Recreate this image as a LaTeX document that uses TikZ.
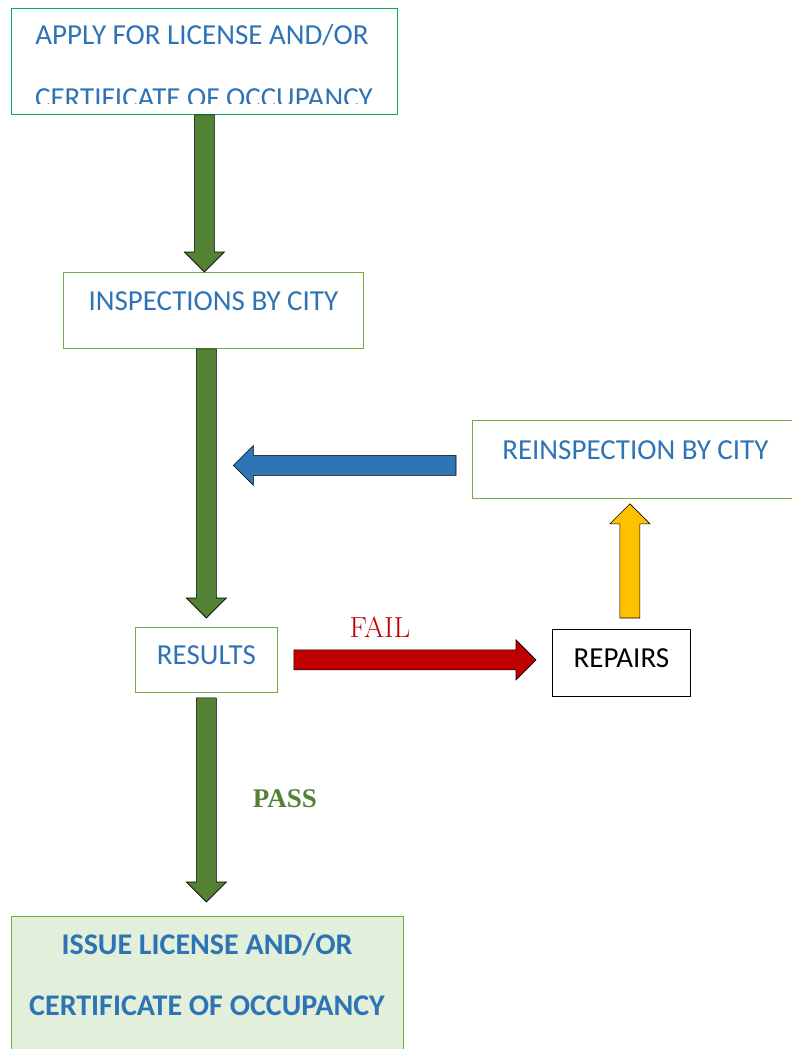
\documentclass[tikz,border=0pt]{standalone}
\usepackage{fontspec}
\setmainfont{Carlito}
\newfontfamily\timesfont{Liberation Serif}
\newfontfamily\lmfont{Latin Modern Roman}
\usetikzlibrary{calc,positioning}

\definecolor{txtblue}{HTML}{2E74B5}
\definecolor{applygreen}{HTML}{00B050}
\definecolor{boxgreen}{HTML}{70AD47}
\definecolor{issuefill}{HTML}{E2EFDA}
\definecolor{arrowgreen}{HTML}{548235}
\definecolor{passgreen}{HTML}{538135}
\definecolor{arrowblue}{HTML}{2E75B6}
\definecolor{arrowred}{HTML}{C00000}
\definecolor{arrowyellow}{HTML}{FFC000}

\tikzset{
	box/.style={draw=boxgreen, line width=0.8pt, rectangle, anchor=north west,
		inner sep=0pt, text height=0pt, text depth=0pt, text=txtblue,
		font=\fontsize{29}{35}\selectfont},
	line/.style={anchor=base, inner sep=0pt, text=txtblue,
		font=\fontsize{29}{35}\selectfont},
	blockarrow/.style={draw=black, line width=0.6pt, line join=miter,
		to path={
			($(\tikztostart)!10pt!-90:(\tikztotarget)$) --
			($(\tikztotarget)!20pt!(\tikztostart)!10pt!-90:(\tikztotarget)$) --
			($(\tikztotarget)!20pt!(\tikztostart)!20pt!-90:(\tikztotarget)$) --
			(\tikztotarget) --
			($(\tikztotarget)!20pt!(\tikztostart)!20pt!90:(\tikztotarget)$) --
			($(\tikztotarget)!20pt!(\tikztostart)!10pt!90:(\tikztotarget)$) --
			($(\tikztostart)!10pt!90:(\tikztotarget)$) -- cycle
		}},
}

\begin{document}
\begin{tikzpicture}[x=1pt, y=-1pt]
	\useasboundingbox (0,0) rectangle (792,1049);

	% boxes
	\node[box, draw=applygreen, minimum width=386pt, minimum height=106pt] (apply) at (11,8) {};
	\begin{scope}
		\clip (apply.north west) rectangle ($(apply.south east)+(0,-11)$);
		\node[line] (applyA) at (202,45) {APPLY FOR LICENSE AND/OR};
		\node[line] (applyB) at (204,107) {CERTIFICATE OF OCCUPANCY};
	\end{scope}
	\node[box, minimum width=300pt, minimum height=76pt] (insp) at (63,272) {INSPECTIONS BY CITY};
	\node[box, minimum width=326pt, minimum height=78pt] (reinsp) at (472,420) {REINSPECTION BY CITY};
	\node[box, text height=9pt, minimum width=142pt, minimum height=65pt] (results) at (135,627) {RESULTS};
	\node[box, text height=9pt, draw=black, text=black, minimum width=138pt, minimum height=67pt] (repairs) at (552,629) {REPAIRS};
	\node[box, fill=issuefill, minimum width=392pt, minimum height=150pt] (issue) at (11,916) {};
	\node[line, font=\fontsize{30}{35}\selectfont\bfseries] (issueA) at (207,954) {ISSUE LICENSE AND/OR};
	\node[line, font=\fontsize{30}{35}\selectfont\bfseries] (issueB) at (207,1015) {CERTIFICATE OF OCCUPANCY};

	% arrow ends
	\coordinate (g1s) at (apply.south);
	\coordinate (g1t) at (apply.south |- insp.north);
	\coordinate (g2s) at (results.north |- insp.south);
	\coordinate (g2t) at ($(results.north)+(0,-9)$);
	\coordinate (g3s) at ($(results.south)+(0,5)$);
	\coordinate (g3t) at ($(results.south |- issue.north)+(0,-14)$);
	\coordinate (bs) at ($(reinsp.west)+(-16,6)$);
	\coordinate (bt) at ($(results.north |- bs)+(27,0)$);
	\coordinate (rs) at ($(results.east)+(16,0)$);
	\coordinate (rt) at ($(repairs.west |- rs)+(-16,0)$);
	\coordinate (ys) at ($(repairs.north)+(8.5,-11)$);
	\coordinate (yt) at ($(ys |- reinsp.south)+(0,5)$);

	% arrows
	\draw[blockarrow, fill=arrowgreen] (g1s) to (g1t);
	\draw[blockarrow, fill=arrowgreen] (g2s) to (g2t);
	\draw[blockarrow, fill=arrowgreen] (g3s) to (g3t);
	\draw[blockarrow, fill=arrowblue] (bs) to (bt);
	\draw[blockarrow, fill=arrowred] (rs) to (rt);
	\draw[blockarrow, fill=arrowyellow] (ys) to (yt);

	% labels
	\node[anchor=base, inner sep=0pt, text=arrowred, font=\lmfont\fontsize{29}{34}\selectfont] (fail) at (380,637) {FAIL};
	\node[anchor=base, inner sep=0pt, text=passgreen, font=\timesfont\fontsize{27}{32}\selectfont\bfseries] (pass) at (285,807) {PASS};
\end{tikzpicture}
\end{document}
